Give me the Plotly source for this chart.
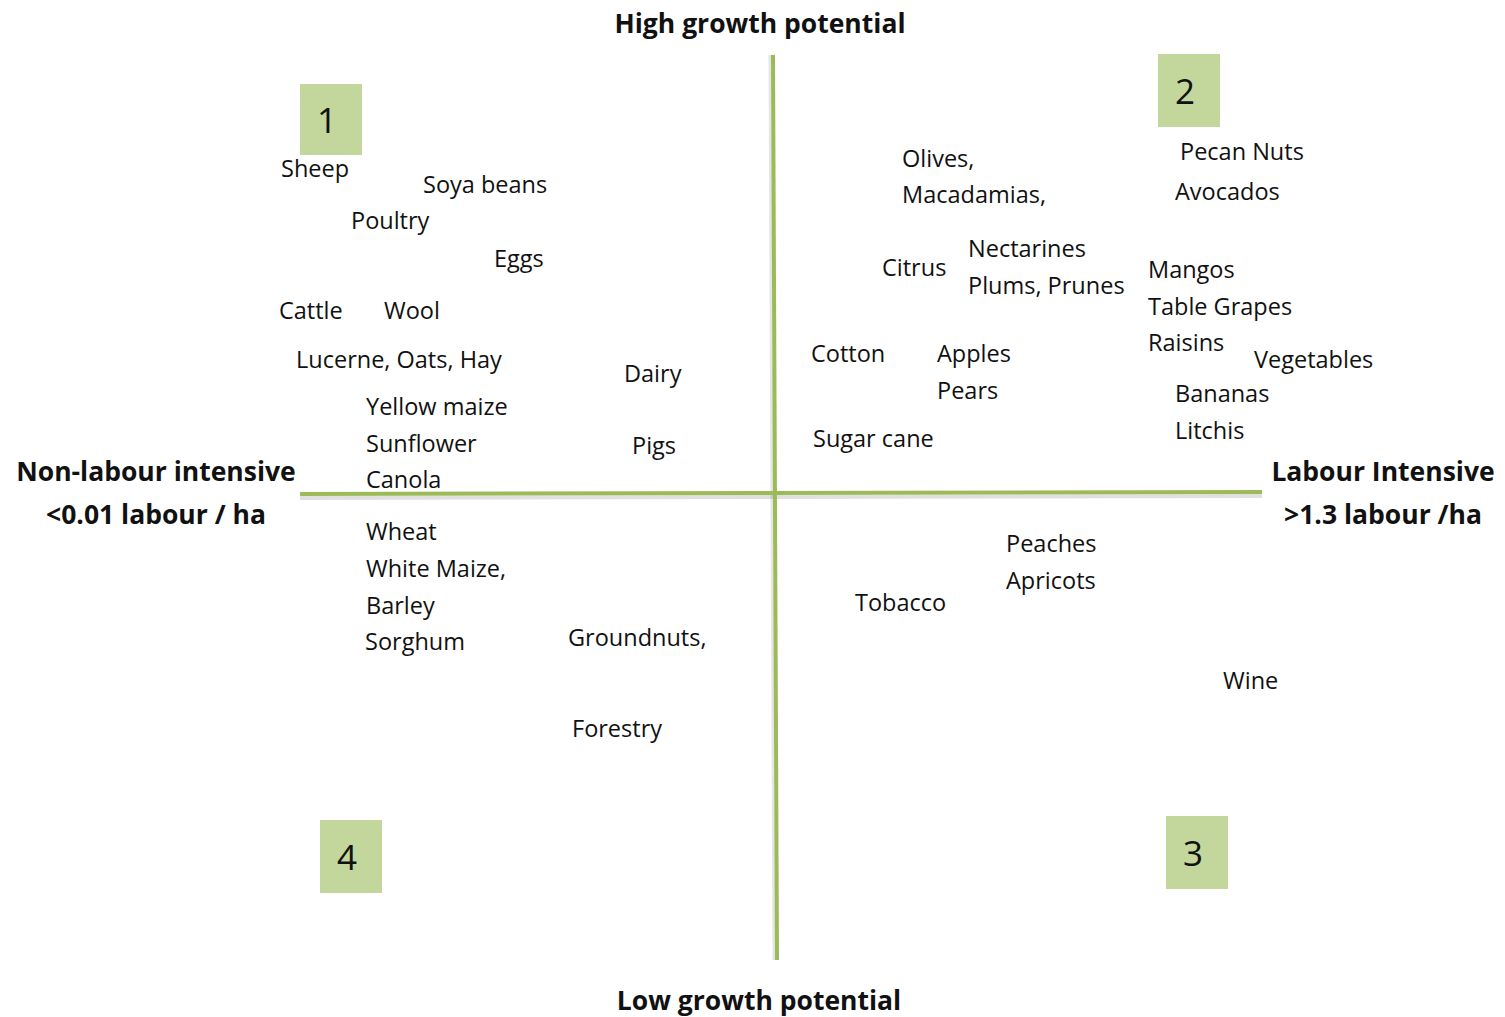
import plotly.graph_objects as go

# Items: name, labour-intensity coordinate (x), growth coordinate (y, top = high)
crop_names = ["Sheep", "Soya beans", "Poultry", "Eggs", "Cattle", "Wool",
              "Lucerne, Oats, Hay", "Dairy", "Yellow maize", "Sunflower", "Canola", "Pigs",
              "Wheat", "White Maize,", "Barley", "Sorghum", "Groundnuts,", "Forestry",
              "Olives,", "Macadamias,", "Pecan Nuts", "Avocados", "Nectarines", "Citrus",
              "Plums, Prunes", "Mangos", "Table Grapes", "Raisins", "Vegetables", "Cotton",
              "Apples", "Pears", "Bananas", "Litchis", "Sugar cane", "Peaches", "Apricots",
              "Tobacco", "Wine"]
crop_x = [281, 423, 351, 494, 279, 384,
          296, 624, 366, 366, 366, 632,
          366, 366, 366, 365, 568, 572,
          902, 902, 1180, 1175, 968, 882,
          968, 1148, 1148, 1148, 1254, 811,
          937, 937, 1175, 1175, 813, 1006, 1006,
          855, 1223]
crop_y = [171, 187, 223, 261, 313, 313,
          362, 376, 409, 446, 482, 448,
          534, 571, 608, 644, 640, 731,
          161, 197, 154, 194, 251, 270,
          288, 272, 309, 345, 362, 356,
          356, 393, 396, 433, 441, 546, 583,
          605, 683]

# Quadrant numbers and their box extents
quad_labels = ["1", "2", "3", "4"]
quad_x0 = [300, 1158, 1166, 320]
quad_x1 = [362, 1220, 1228, 382]
quad_y0 = [84, 54, 816, 820]
quad_y1 = [155, 127, 889, 893]

# Axis lines
h_axis_x = [300, 1262]
h_axis_y = [494, 492]
v_axis_x = [773, 777]
v_axis_y = [55, 960]

# Axis titles (one entry per text line)
axis_titles = ["High growth potential", "Low growth potential",
               "Non-labour intensive", "<0.01 labour / ha",
               "Labour Intensive", ">1.3 labour /ha"]
axis_title_x = [760, 759, 156, 156, 1383, 1383]
axis_title_y = [26, 1003, 474, 517, 474, 517]

FONT = "Open Sans, Noto Sans, sans-serif"
GREEN = "#9BBB59"
BOX = "#C3D69B"

fig = go.Figure()

# line shadows
fig.add_trace(go.Scatter(x=h_axis_x, y=[v + 4 for v in h_axis_y], mode="lines",
                         line=dict(color="rgba(0,0,0,0.12)", width=4), hoverinfo="skip"))
fig.add_trace(go.Scatter(x=[v - 3 for v in v_axis_x], y=v_axis_y, mode="lines",
                         line=dict(color="rgba(0,0,0,0.10)", width=3), hoverinfo="skip"))
fig.add_trace(go.Scatter(x=h_axis_x, y=h_axis_y, mode="lines",
                         line=dict(color=GREEN, width=4), hoverinfo="skip"))
fig.add_trace(go.Scatter(x=v_axis_x, y=v_axis_y, mode="lines",
                         line=dict(color=GREEN, width=4), hoverinfo="skip"))

for lab, x0, x1, y0, y1 in zip(quad_labels, quad_x0, quad_x1, quad_y0, quad_y1):
    fig.add_shape(type="rect", x0=x0, x1=x1, y0=y0, y1=y1, xref="x", yref="y",
                  fillcolor=BOX, line=dict(width=0), layer="below")
fig.add_trace(go.Scatter(x=[(a + b) / 2 - 4 for a, b in zip(quad_x0, quad_x1)],
                         y=[(a + b) / 2 + 5 for a, b in zip(quad_y0, quad_y1)],
                         mode="text", text=quad_labels, textposition="middle center",
                         textfont=dict(family=FONT, size=35, color="#111111"), hoverinfo="skip"))

fig.add_trace(go.Scatter(x=crop_x, y=crop_y, mode="text", text=crop_names,
                         textposition="middle right",
                         textfont=dict(family=FONT, size=23.5, color="#111111"), hoverinfo="skip"))

fig.add_trace(go.Scatter(x=axis_title_x, y=axis_title_y, mode="text",
                         text=["<b>" + t + "</b>" for t in axis_titles],
                         textposition="middle center",
                         textfont=dict(family=FONT, size=26.5, color="#111111"), hoverinfo="skip"))

fig.update_layout(
    width=1505, height=1017, margin=dict(l=0, r=0, t=0, b=0),
    paper_bgcolor="white", plot_bgcolor="white", showlegend=False,
    xaxis=dict(range=[0, 1505], visible=False, fixedrange=True),
    yaxis=dict(range=[1017, 0], visible=False, fixedrange=True),
)

fig.write_html("out.html")
